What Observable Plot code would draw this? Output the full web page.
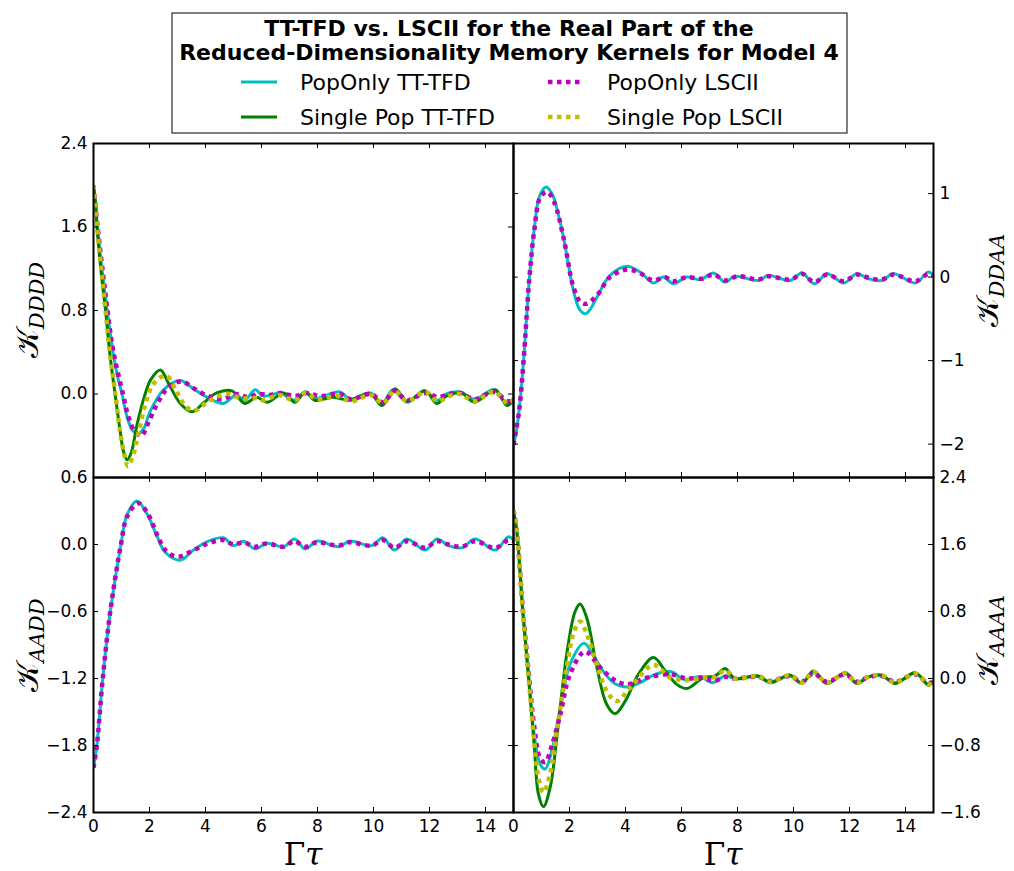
<!DOCTYPE html>
<html><head><meta charset="utf-8">
<script src="https://cdn.jsdelivr.net/npm/d3@7"></script>
<script src="https://cdn.jsdelivr.net/npm/@observablehq/plot@0.6"></script>
<style>
body{margin:0;background:#fff;font-family:"DejaVu Sans",sans-serif;}
#wrap{position:relative;width:1014px;height:871px;overflow:hidden;background:#fff;}
.panel text{font-size:17px;font-family:"DejaVu Sans",sans-serif;fill:#000;}
.ylab{position:absolute;transform:translate(-50%,-50%) rotate(-90deg);white-space:nowrap;font-family:"DejaVu Serif",serif;font-size:31px;line-height:1;color:#000;font-weight:normal;}
.ylab sub{font-style:italic;font-size:21px;vertical-align:-0.3em;}
.xlab{position:absolute;transform:translateX(-50%);white-space:nowrap;font-family:"DejaVu Serif",serif;font-size:31px;line-height:1;color:#000;}
</style></head><body><div id="wrap"></div>
<script>
// ---- data (t = Γτ, value) ----
const xTicks = [0, 2, 4, 6, 8, 10, 12, 14];
const seriesNames = ["PopOnly TT-TFD", "Single Pop TT-TFD", "PopOnly LSCII", "Single Pop LSCII"];
const seriesColors = ["#00BFBF", "#008000", "#BF00BF", "#BFBF00"];

// K_DDDD
const ddddTicks = [2.4, 1.6, 0.8, 0.0, -0.8];
const ddddTickLabels = [2.4, 1.6, 0.8, 0.0];
const dddd_popTT = [[0,2.0],[0.07,1.85],[0.14,1.6],[0.3,1.2],[0.49,0.8],[0.7,0.4],[0.85,0.18],[1.02,0.0],[1.2,-0.22],[1.4,-0.35],[1.6,-0.38],[1.8,-0.33],[2.0,-0.18],[2.5,0.04],[3.1,0.13],[3.57,0.05],[4.05,-0.03],[4.64,-0.09],[5.1,-0.01],[5.4,-0.06],[5.77,0.04],[6.07,-0.02],[6.67,0.01],[7.14,-0.06],[7.56,0.02],[7.9,-0.04],[8.8,0.02],[9.17,-0.05],[9.9,0.01],[10.3,-0.09],[10.7,0.04],[11.2,-0.08],[11.8,0.03],[12.3,-0.06],[12.6,0.0],[13.1,0.02],[13.6,-0.05],[14.3,0.04],[14.76,-0.09],[15,-0.04]];
const dddd_singleTT = [[0,2.0],[0.07,1.82],[0.14,1.55],[0.3,1.1],[0.43,0.8],[0.6,0.35],[0.77,0.0],[0.95,-0.35],[1.07,-0.55],[1.2,-0.63],[1.35,-0.56],[1.55,-0.3],[1.8,-0.04],[2.05,0.14],[2.39,0.23],[2.7,0.09],[3.1,-0.09],[3.52,-0.17],[3.95,-0.08],[4.4,0.01],[4.94,0.03],[5.4,-0.09],[5.83,-0.03],[6.2,-0.08],[6.8,0.01],[7.2,-0.08],[7.56,0.02],[7.9,-0.06],[8.57,-0.03],[9.1,-0.06],[9.9,0.0],[10.3,-0.11],[10.77,0.05],[11.2,-0.07],[11.85,0.03],[12.26,-0.09],[12.6,-0.02],[13.15,0.01],[13.6,-0.08],[14.35,0.04],[14.76,-0.11],[15,-0.06]];
const dddd_popLSC = [[0,2.0],[0.14,1.62],[0.5,0.8],[0.7,0.42],[1.05,0.0],[1.25,-0.22],[1.45,-0.35],[1.71,-0.40],[1.95,-0.28],[2.3,-0.08],[2.7,0.07],[3.15,0.12],[3.6,0.05],[4.1,-0.02],[4.6,-0.05],[5.1,0.0],[5.5,-0.03],[5.9,0.0],[6.3,-0.01],[6.7,0.01],[7.2,-0.02],[7.6,0.01],[8.1,-0.02],[8.8,0.0],[9.2,-0.05],[9.9,0.0],[10.35,-0.08],[10.75,0.03],[11.2,-0.06],[11.85,0.01],[12.3,-0.03],[12.7,0.0],[13.1,0.01],[13.6,-0.05],[14.3,0.02],[14.8,-0.07],[15,-0.05]];
const dddd_singleLSC = [[0,2.0],[0.14,1.57],[0.43,0.8],[0.6,0.36],[0.78,0.0],[0.95,-0.36],[1.1,-0.58],[1.23,-0.69],[1.4,-0.6],[1.6,-0.38],[1.85,-0.1],[2.1,0.08],[2.4,0.16],[2.63,0.17],[2.95,0.03],[3.3,-0.12],[3.6,-0.16],[4.0,-0.09],[4.4,-0.03],[4.8,0.0],[5.25,-0.04],[5.8,-0.04],[6.1,-0.06],[6.6,-0.01],[7.2,-0.06],[7.56,0.01],[8.0,-0.05],[8.7,-0.02],[9.2,-0.07],[9.9,-0.01],[10.35,-0.09],[10.75,0.03],[11.2,-0.07],[11.85,0.02],[12.3,-0.07],[12.7,-0.02],[13.1,0.0],[13.6,-0.07],[14.3,0.02],[14.8,-0.09],[15,-0.06]];

// K_DDAA
const ddaaTicks = [1, 0, -1, -2];
const ddaaTickLabels = [1, 0, -1, -2];
const ddaa_popTT = [[0,-2.01],[0.1,-1.85],[0.2,-1.6],[0.36,-1.0],[0.57,0.0],[0.75,0.6],[0.93,0.97],[1.17,1.08],[1.4,0.98],[1.6,0.75],[1.8,0.45],[2.14,-0.16],[2.35,-0.38],[2.56,-0.44],[2.75,-0.38],[2.98,-0.24],[3.45,0.02],[4.05,0.13],[4.52,0.06],[5.0,-0.07],[5.36,0.0],[5.71,-0.08],[6.19,0.0],[6.67,-0.03],[7.14,0.05],[7.56,-0.06],[7.9,0.01],[8.75,-0.04],[9.1,0.02],[9.88,-0.04],[10.3,0.05],[10.75,-0.08],[11.2,0.04],[11.8,-0.07],[12.26,0.04],[12.68,-0.02],[13.15,-0.04],[13.57,0.04],[14.35,-0.07],[14.82,0.06],[15,0.02]];
const ddaa_popLSC = [[0,-2.01],[0.2,-1.6],[0.36,-1.0],[0.57,0.0],[0.75,0.58],[0.95,0.95],[1.2,1.02],[1.45,0.9],[1.8,0.45],[2.14,-0.12],[2.4,-0.3],[2.6,-0.32],[2.98,-0.22],[3.45,0.0],[4.05,0.09],[4.5,0.05],[5.0,-0.04],[5.4,0.0],[5.7,-0.05],[6.2,0.0],[6.7,-0.02],[7.14,0.03],[7.56,-0.04],[8.0,0.01],[8.75,-0.03],[9.1,0.01],[9.9,-0.03],[10.3,0.04],[10.75,-0.06],[11.2,0.03],[11.8,-0.05],[12.26,0.03],[12.7,-0.01],[13.15,-0.03],[13.57,0.03],[14.35,-0.05],[14.82,0.04],[15,0.02]];

// K_AADD
const aaddTicks = [0.6, 0.0, -0.6, -1.2, -1.8, -2.4];
const aaddTickLabels = [0.6, 0.0, -0.6, -1.2, -1.8, -2.4];
const aadd_popTT = [[0,-2.0],[0.12,-1.8],[0.33,-1.2],[0.6,-0.6],[0.98,0.0],[1.19,0.26],[1.55,0.39],[1.9,0.28],[2.26,0.08],[2.56,-0.07],[3.1,-0.14],[3.57,-0.05],[4.1,0.03],[4.64,0.06],[5.0,-0.01],[5.36,0.03],[5.77,-0.04],[6.19,0.01],[6.79,-0.02],[7.18,0.05],[7.56,-0.04],[7.98,0.03],[8.75,-0.02],[9.14,0.03],[9.94,-0.01],[10.33,0.06],[10.75,-0.05],[11.19,0.05],[11.85,-0.05],[12.26,0.05],[12.68,-0.01],[13.15,-0.03],[13.63,0.05],[14.35,-0.05],[14.82,0.07],[15,0.04]];
const aadd_popLSC = [[0,-2.0],[0.12,-1.8],[0.33,-1.2],[0.6,-0.6],[0.98,0.0],[1.2,0.25],[1.6,0.37],[1.95,0.27],[2.3,0.07],[2.6,-0.06],[3.0,-0.11],[3.5,-0.06],[4.1,0.01],[4.64,0.04],[5.0,0.0],[5.36,0.02],[5.77,-0.02],[6.19,0.01],[6.79,-0.02],[7.18,0.03],[7.56,-0.02],[7.98,0.02],[8.75,-0.01],[9.14,0.02],[9.94,-0.01],[10.33,0.04],[10.75,-0.03],[11.19,0.03],[11.85,-0.03],[12.26,0.03],[12.68,0.0],[13.15,-0.02],[13.63,0.03],[14.35,-0.03],[14.82,0.04],[15,0.03]];

// K_AAAA
const aaaaTicks = [2.4, 1.6, 0.8, 0.0, -0.8, -1.6];
const aaaaTickLabels = [2.4, 1.6, 0.8, 0.0, -0.8, -1.6];
const aaaa_popTT = [[0,2.01],[0.12,1.75],[0.33,0.82],[0.54,0.05],[0.71,-0.59],[0.95,-1.02],[1.13,-1.08],[1.37,-0.86],[1.67,-0.35],[2.02,0.17],[2.52,0.42],[2.86,0.27],[3.2,0.09],[3.57,-0.05],[4.05,-0.10],[4.52,-0.05],[5.06,0.05],[5.65,0.08],[6.07,-0.01],[6.67,0.02],[7.1,-0.05],[7.56,0.03],[7.9,0.0],[8.45,0.02],[8.75,0.02],[9.17,-0.04],[9.88,0.03],[10.3,-0.05],[10.71,0.07],[11.19,-0.05],[11.85,0.06],[12.26,-0.05],[12.68,0.02],[13.15,0.03],[13.63,-0.05],[14.35,0.06],[14.82,-0.07],[15,-0.03]];
const aaaa_singleTT = [[0,2.01],[0.12,1.75],[0.24,1.24],[0.33,0.8],[0.54,0.0],[0.74,-0.8],[0.89,-1.38],[1.07,-1.53],[1.31,-1.30],[1.55,-0.70],[1.9,0.29],[2.2,0.80],[2.38,0.89],[2.62,0.72],[2.98,0.13],[3.33,-0.31],[3.63,-0.42],[3.99,-0.27],[4.46,0.05],[5.0,0.25],[5.42,0.09],[5.83,-0.07],[6.19,-0.12],[6.79,0.01],[7.2,0.03],[7.56,0.12],[7.9,0.0],[8.45,0.02],[8.75,0.03],[9.17,-0.05],[9.88,0.04],[10.3,-0.06],[10.71,0.09],[11.19,-0.06],[11.85,0.07],[12.26,-0.06],[12.68,0.02],[13.15,0.04],[13.63,-0.06],[14.35,0.07],[14.82,-0.08],[15,-0.03]];
const aaaa_popLSC = [[0,2.01],[0.12,1.75],[0.33,0.84],[0.54,0.08],[0.73,-0.55],[0.95,-0.95],[1.13,-1.0],[1.37,-0.8],[1.67,-0.43],[2.02,0.05],[2.55,0.32],[3.1,0.13],[3.57,-0.01],[4.05,-0.07],[4.76,0.01],[5.6,0.05],[6.19,0.0],[6.79,0.01],[7.14,-0.03],[7.56,0.02],[7.9,0.0],[8.75,0.02],[9.17,-0.03],[9.88,0.03],[10.3,-0.04],[10.71,0.06],[11.19,-0.04],[11.85,0.05],[12.26,-0.04],[12.68,0.02],[13.15,0.03],[13.63,-0.04],[14.35,0.05],[14.82,-0.06],[15,-0.03]];
const aaaa_singleLSC = [[0,2.01],[0.12,1.75],[0.33,0.82],[0.54,0.02],[0.74,-0.75],[0.9,-1.2],[1.07,-1.36],[1.3,-1.15],[1.55,-0.63],[1.9,0.13],[2.15,0.55],[2.38,0.68],[2.6,0.55],[2.86,0.29],[3.33,-0.15],[3.69,-0.27],[4.17,-0.11],[5.0,0.16],[5.6,0.01],[6.19,-0.02],[6.79,0.01],[7.2,0.02],[7.56,0.1],[7.9,0.0],[8.45,0.02],[8.75,0.03],[9.17,-0.04],[9.88,0.04],[10.3,-0.05],[10.71,0.08],[11.19,-0.05],[11.85,0.06],[12.26,-0.05],[12.68,0.02],[13.15,0.04],[13.63,-0.05],[14.35,0.06],[14.82,-0.07],[15,-0.03]];

// ---- layout & drawing ----
const wrap = document.getElementById("wrap");
const styles = [
  {stroke: seriesColors[0], strokeWidth: 3},
  {stroke: seriesColors[1], strokeWidth: 3},
  {stroke: seriesColors[2], strokeWidth: 4.5, strokeDasharray: "4.5,4.5"},
  {stroke: seriesColors[3], strokeWidth: 4.5, strokeDasharray: "4.5,4.5"}
];
const fmt1 = d => d3.format(".1f")(d);

function panel({series, yDomain, yTicks, yLabels, yFormat, side, showX, px, py, H}) {
  const W = 420;
  const mL = side === "left" ? 60 : 0, mR = side === "right" ? 60 : 0;
  const mT = 10, mB = showX ? 30 : 10;
  const marks = [];
  series.forEach((s, i) => {
    if (!s) return;
    marks.push(Plot.line(s, {x: d => d[0], y: d => d[1], curve: "catmull-rom", clip: true, strokeLinecap: "butt", strokeLinejoin: "round", ...styles[i]}));
  });
  marks.push(
    Plot.tickY(yTicks, {y: d => d, insetRight: W - 5, stroke: "black", strokeWidth: 1}),
    Plot.tickY(yTicks, {y: d => d, insetLeft: W - 5, stroke: "black", strokeWidth: 1}),
    Plot.tickX(xTicks, {x: d => d, insetBottom: H - 5, stroke: "black", strokeWidth: 1}),
    Plot.tickX(xTicks, {x: d => d, insetTop: H - 5, stroke: "black", strokeWidth: 1}),
    Plot.frame({stroke: "black", strokeWidth: 2}),
    Plot.axisY(yLabels, {anchor: side, tickSize: 0, tickPadding: 6, tickFormat: yFormat, label: null, fontSize: 17})
  );
  if (showX) marks.push(Plot.axisX(xTicks, {anchor: "bottom", tickSize: 0, tickPadding: 7, tickFormat: d => String(d), label: null, fontSize: 17}));
  const svg = Plot.plot({
    className: "panel",
    width: W + mL + mR, height: H + mT + mB,
    marginLeft: mL, marginRight: mR, marginTop: mT, marginBottom: mB,
    x: {domain: [0, 15], axis: null},
    y: {domain: yDomain, axis: null},
    style: {background: "transparent", overflow: "visible", fontFamily: "DejaVu Sans", fontSize: "17px", color: "black"},
    marks
  });
  svg.classList.add("panel");
  svg.style.position = "absolute";
  svg.style.left = (px - mL) + "px";
  svg.style.top = (py - mT) + "px";
  wrap.appendChild(svg);
}

panel({series: [dddd_popTT, dddd_singleTT, dddd_popLSC, dddd_singleLSC], yDomain: [-0.8, 2.4], yTicks: ddddTicks, yLabels: ddddTickLabels, yFormat: fmt1, side: "left", showX: false, px: 93, py: 143, H: 334});
panel({series: [ddaa_popTT, null, ddaa_popLSC, null], yDomain: [-2.4, 1.6], yTicks: ddaaTicks, yLabels: ddaaTickLabels, yFormat: d => d3.format("d")(d), side: "right", showX: false, px: 513, py: 143, H: 334});
panel({series: [aadd_popTT, null, aadd_popLSC, null], yDomain: [-2.4, 0.6], yTicks: aaddTicks, yLabels: aaddTickLabels, yFormat: fmt1, side: "left", showX: true, px: 93, py: 477, H: 335});
panel({series: [aaaa_popTT, aaaa_singleTT, aaaa_popLSC, aaaa_singleLSC], yDomain: [-1.6, 2.4], yTicks: aaaaTicks, yLabels: aaaaTickLabels, yFormat: fmt1, side: "right", showX: true, px: 513, py: 477, H: 335});

// axis labels
function ylab(sub, cx, cy) {
  const d = document.createElement("div");
  d.className = "ylab";
  d.style.left = cx + "px"; d.style.top = cy + "px";
  d.innerHTML = "𝒦<sub>" + sub + "</sub>";
  wrap.appendChild(d);
}
ylab("DDDD", 30, 310);
ylab("AADD", 30, 645);
ylab("DDAA", 990, 280);
ylab("AAAA", 990, 640);
function xlab(cx) {
  const d = document.createElement("div");
  d.className = "xlab";
  d.style.left = cx + "px"; d.style.top = "839px";
  d.innerHTML = "Γ<i>τ</i>";
  wrap.appendChild(d);
}
xlab(303); xlab(723);

// title + legend box
const box = d3.select(wrap).append("svg")
  .attr("width", 677).attr("height", 122)
  .style("position", "absolute").style("left", "171px").style("top", "12px")
  .style("font-family", "DejaVu Sans");
box.append("rect").attr("x", 1).attr("y", 1).attr("width", 675).attr("height", 120)
  .attr("fill", "white").attr("stroke", "black").attr("stroke-width", 1);
const titleLines = ["TT-TFD vs. LSCII for the Real Part of the", "Reduced-Dimensionality Memory Kernels for Model 4"];
box.selectAll("text.t").data(titleLines).join("text")
  .attr("x", 338).attr("y", (d, i) => 24 + i * 24)
  .attr("text-anchor", "middle").attr("font-weight", "bold").attr("font-size", 22)
  .text(d => d);
const legendPos = [[0, 0], [0, 1], [1, 0], [1, 1]]; // col,row
seriesNames.forEach((name, i) => {
  const [c, r] = legendPos[i];
  const x0 = c === 0 ? 70 : 377, y0 = 70 + r * 35;
  box.append("line").attr("x1", x0).attr("x2", x0 + 36).attr("y1", y0).attr("y2", y0)
    .attr("stroke", seriesColors[i]).attr("stroke-width", styles[i].strokeWidth)
    .attr("stroke-dasharray", styles[i].strokeDasharray || null);
  box.append("text").attr("x", x0 + 59).attr("y", y0 + 8).attr("font-size", 22).text(name);
});
</script></body></html>
